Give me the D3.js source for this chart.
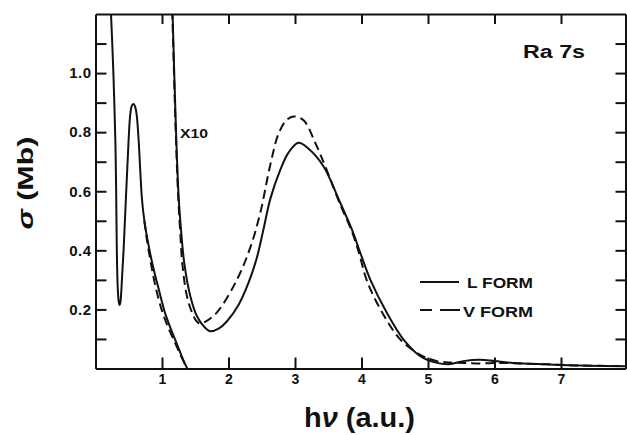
<!DOCTYPE html>
<html>
<head>
<meta charset="utf-8">
<script src="https://cdn.jsdelivr.net/npm/d3@7"></script>
<style>
  body { margin: 0; background: #fff; }
  svg { display: block; }
  text { font-family: "Liberation Sans", Arial, sans-serif; font-weight: bold; fill: #111; }
  .axis path, .axis line { stroke: #111; stroke-width: 2; }
</style>
</head>
<body>
<svg width="627" height="435"></svg>
<script>
// tick values
const xTicks = [1, 2, 3, 4, 5, 6, 7];
const yTicks = [0.1, 0.2, 0.3, 0.4, 0.5, 0.6, 0.7, 0.8, 0.9, 1.0, 1.1];
const yLabels = [0.2, 0.4, 0.6, 0.8, 1.0];
const seriesNames = ["L FORM", "V FORM"];

// low energy part, [hv, sigma]
const lowL = [[0.22, 1.25], [0.233, 1.2], [0.298, 0.775], [0.323, 0.371], [0.335, 0.27], [0.35, 0.225],
  [0.362, 0.215], [0.375, 0.225], [0.39, 0.27], [0.423, 0.404], [0.498, 0.775], [0.523, 0.86],
  [0.548, 0.89], [0.573, 0.895], [0.598, 0.885], [0.621, 0.855], [0.648, 0.775], [0.699, 0.573],
  [0.735, 0.5], [0.8, 0.415], [0.87, 0.34], [0.949, 0.27], [1.05, 0.185], [1.14, 0.13],
  [1.22, 0.085], [1.29, 0.045], [1.34, 0.018], [1.38, 0]];
const lowV = [[0.735, 0.5], [0.77, 0.44], [0.83, 0.36], [0.9, 0.28], [1.0, 0.195], [1.1, 0.135],
  [1.2, 0.085], [1.28, 0.045], [1.34, 0.018], [1.38, 0]];

// x10 part
const x10L = [[1.15, 1.26], [1.159, 1.2], [1.21, 0.809], [1.25, 0.583], [1.286, 0.47], [1.335, 0.357],
  [1.426, 0.245], [1.526, 0.177], [1.677, 0.132], [1.726, 0.126], [1.85, 0.135], [1.977, 0.16],
  [2.15, 0.215], [2.3, 0.29], [2.42, 0.37], [2.52, 0.465], [2.63, 0.575], [2.78, 0.673], [2.9, 0.73],
  [3.05, 0.764], [3.2, 0.745], [3.43, 0.684], [3.68, 0.561], [3.857, 0.47], [3.956, 0.408],
  [4.132, 0.301], [4.383, 0.188], [4.633, 0.098], [4.884, 0.042], [5.135, 0.019], [5.335, 0.015],
  [5.53, 0.025], [5.786, 0.03], [6.01, 0.025], [6.28, 0.019], [6.79, 0.014], [7.28, 0.01], [7.97, 0.008]];
const x10V = [[1.145, 1.26], [1.155, 1.2], [1.205, 0.809], [1.243, 0.583], [1.272, 0.47], [1.305, 0.357],
  [1.37, 0.25], [1.45, 0.19], [1.52, 0.16], [1.576, 0.152], [1.65, 0.158], [1.827, 0.19],
  [2.128, 0.301], [2.328, 0.41], [2.478, 0.527], [2.629, 0.69], [2.753, 0.795], [2.87, 0.84],
  [2.979, 0.853], [3.129, 0.84], [3.305, 0.764], [3.455, 0.684], [3.68, 0.555], [3.857, 0.463],
  [3.956, 0.396], [4.087, 0.294], [4.328, 0.183], [4.598, 0.095], [4.914, 0.043], [5.135, 0.025],
  [5.335, 0.02], [5.53, 0.019], [5.786, 0.017], [6.04, 0.019], [6.28, 0.018], [6.79, 0.014],
  [7.28, 0.01], [7.97, 0.008]];

const svg = d3.select("svg");

const x = d3.scaleLinear().domain([0, 7.97]).range([95.5, 625.5]);
const y = d3.scaleLinear().domain([0, 1.2]).range([368.5, 14]);

// frame + ticks (all inward)
svg.append("g").attr("class", "axis")
  .attr("transform", `translate(0,${y(0)})`)
  .call(d3.axisBottom(x).tickValues(xTicks).tickSize(-11).tickSizeOuter(0).tickPadding(6).tickFormat(d3.format("d")))
  .selectAll("text").style("font-size", "14px");

svg.append("g").attr("class", "axis")
  .attr("transform", `translate(${x(0)},0)`)
  .call(d3.axisLeft(y).tickValues(yTicks).tickSize(-11).tickSizeOuter(0).tickPadding(4)
    .tickFormat(d => yLabels.includes(+d.toFixed(1)) ? d.toFixed(1) : ""))
  .selectAll("text").style("font-size", "15px").style("letter-spacing", "0.5px");

svg.append("g").attr("class", "axis")
  .attr("transform", `translate(0,${y(1.2)})`)
  .call(d3.axisTop(x).tickValues(xTicks).tickSize(-10).tickSizeOuter(0).tickFormat(""));

svg.append("g").attr("class", "axis")
  .attr("transform", `translate(${x(7.97)},0)`)
  .call(d3.axisRight(y).tickValues(yTicks).tickSize(-10).tickSizeOuter(0).tickFormat(""));

// curves
svg.append("clipPath").attr("id", "clip")
  .append("rect")
  .attr("x", x(0)).attr("y", y(1.2))
  .attr("width", x(7.97) - x(0)).attr("height", y(0) - y(1.2));

const line = d3.line()
  .x(d => x(d[0]))
  .y(d => y(d[1]))
  .curve(d3.curveCatmullRom.alpha(0.5));

const curves = [
  {data: lowL, dash: null},
  {data: lowV, dash: "9,5"},
  {data: x10L, dash: null},
  {data: x10V, dash: "9,5"}
];

svg.append("g").attr("clip-path", "url(#clip)")
  .selectAll("path")
  .data(curves)
  .enter().append("path")
  .attr("d", d => line(d.data))
  .attr("fill", "none")
  .attr("stroke", "#111")
  .attr("stroke-width", 2)
  .attr("stroke-dasharray", d => d.dash);

// annotations
svg.append("text")
  .attr("x", 180).attr("y", 138)
  .attr("textLength", 28).attr("lengthAdjust", "spacingAndGlyphs")
  .style("font-size", "13px")
  .text("X10");

svg.append("text")
  .attr("x", 523).attr("y", 58)
  .attr("textLength", 62).attr("lengthAdjust", "spacingAndGlyphs")
  .style("font-size", "18px")
  .text("Ra  7s");

// legend
const legend = svg.append("g");
legend.append("line")
  .attr("x1", 420).attr("x2", 459).attr("y1", 282).attr("y2", 282)
  .attr("stroke", "#111").attr("stroke-width", 2);
legend.append("line")
  .attr("x1", 420).attr("x2", 460).attr("y1", 310).attr("y2", 310)
  .attr("stroke", "#111").attr("stroke-width", 2)
  .attr("stroke-dasharray", "12,8,20");
legend.append("text")
  .attr("x", 467).attr("y", 288)
  .attr("textLength", 66).attr("lengthAdjust", "spacingAndGlyphs")
  .style("font-size", "15px")
  .text(seriesNames[0]);
legend.append("text")
  .attr("x", 463).attr("y", 317)
  .attr("textLength", 70).attr("lengthAdjust", "spacingAndGlyphs")
  .style("font-size", "15px")
  .text(seriesNames[1]);

// axis titles
const xt = svg.append("text")
  .attr("x", 304).attr("y", 427)
  .attr("textLength", 111).attr("lengthAdjust", "spacingAndGlyphs")
  .style("font-size", "27px");
xt.append("tspan").text("h");
xt.append("tspan").style("font-style", "italic").text("ν");
xt.append("tspan").text(" (a.u.)");

const yt = svg.append("text")
  .attr("transform", "translate(33,183) rotate(-90)")
  .attr("text-anchor", "middle")
  .attr("textLength", 93).attr("lengthAdjust", "spacingAndGlyphs")
  .style("font-size", "22px");
yt.append("tspan").style("font-style", "italic").text("σ");
yt.append("tspan").text(" (Mb)");
</script>
</body>
</html>
